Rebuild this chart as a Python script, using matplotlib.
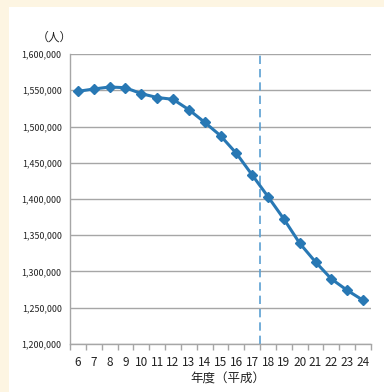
import matplotlib
matplotlib.use('Agg')
import matplotlib.pyplot as plt
from matplotlib.patches import Rectangle

plt.rcParams['font.family'] = ['Noto Sans CJK JP', 'DejaVu Sans']

# 年度（平成）
years = ['6', '7', '8', '9', '10', '11', '12', '13', '14', '15', '16', '17',
         '18', '19', '20', '21', '22', '23', '24']
# 人数
people = [1548500, 1551700, 1554500, 1553500, 1545300, 1540000, 1537500,
          1523200, 1505800, 1487300, 1463000, 1433100, 1403200, 1372400,
          1338900, 1313100, 1289700, 1274000, 1260300]
yticks = [1200000, 1250000, 1300000, 1350000, 1400000, 1450000, 1500000,
          1550000, 1600000]
split_after = '17'

W, H = 384, 392
fig = plt.figure(figsize=(W / 100, H / 100), dpi=100)
fig.patch.set_facecolor('#fdf5e2')
# white panel behind the chart
fig.patches.append(Rectangle((9 / W, 0), 1, 1 - 7 / H, transform=fig.transFigure,
                             facecolor='white', edgecolor='none', zorder=-10))

ax = fig.add_axes([70 / W, 48 / H, 301 / W, 290 / H])
ax.set_facecolor('none')
ax.set_zorder(5)

x = list(range(len(years)))
ax.plot(x, people, color='#2878b4', lw=2.2, marker='D', ms=5.5,
        markeredgecolor='#2878b4', zorder=3)

sx = years.index(split_after) + 0.5
ax.axvline(sx, color='#5b9fd2', lw=1.2, ls=(0, (5, 3)), zorder=2)

ax.set_xlim(-0.5, len(years) - 0.5)
ax.set_ylim(yticks[0], yticks[-1])
ax.set_yticks(yticks)
ax.set_yticklabels([f'{v:,}' for v in yticks], fontsize=6.4, color='#222222')
ax.yaxis.grid(True, color='#a6a6a6', lw=1)
ax.set_axisbelow(True)

# ticks between categories, labels at centers
ax.set_xticks([i - 0.5 for i in range(len(years) + 1)])
ax.set_xticklabels([])
ax.set_xticks(x, minor=True)
ax.set_xticklabels(years, minor=True, fontsize=8.5, color='#222222')
ax.tick_params(axis='x', which='major', length=4, color='#a6a6a6', width=1)
ax.tick_params(axis='x', which='minor', length=0, pad=9)
ax.tick_params(axis='y', length=0, pad=6)

for s in ['top', 'right']:
    ax.spines[s].set_visible(False)
for s in ['left', 'bottom']:
    ax.spines[s].set_color('#a6a6a6')
    ax.spines[s].set_linewidth(1)

fig.text(54 / W, 1 - 37 / H, '（人）', fontsize=8.5, ha='center', va='center',
         color='#222222', zorder=6)
fig.text(228 / W, 1 - 379 / H, '年度（平成）', fontsize=9, ha='center',
         va='center', color='#222222', zorder=6)

fig.savefig('out.png', dpi=100, facecolor=fig.get_facecolor())
